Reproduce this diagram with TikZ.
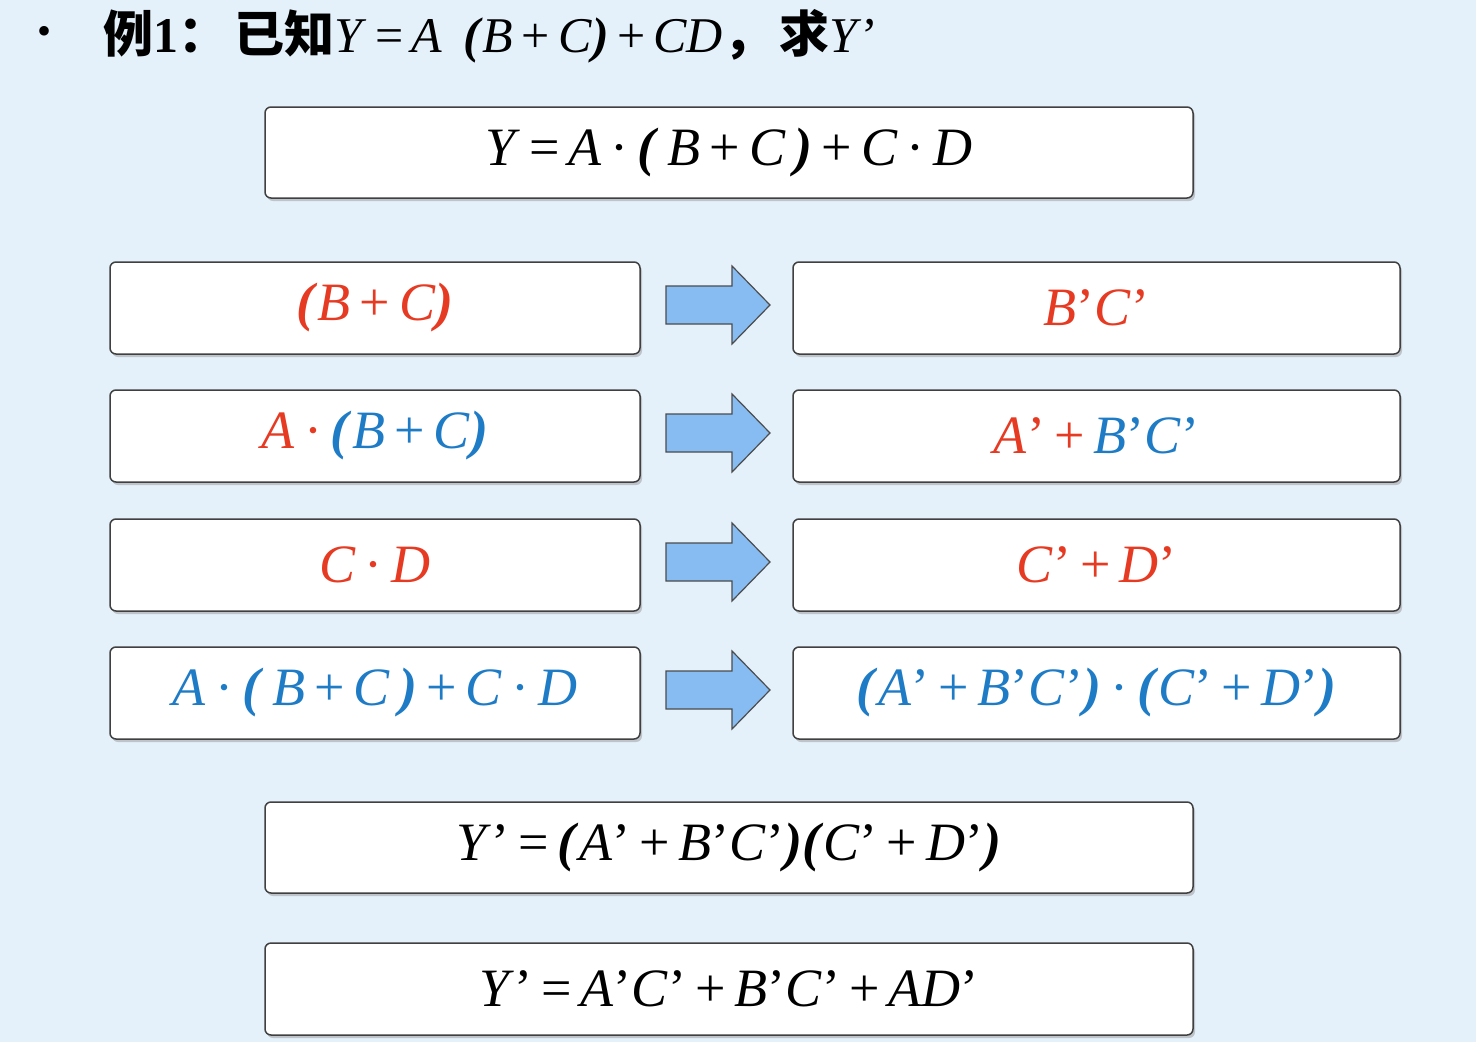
\documentclass[tikz,border=0pt]{standalone}
\usepackage{fontspec}
\setmainfont{Liberation Serif}
\newfontfamily\cjk{Noto Sans CJK SC}
\usetikzlibrary{shadows}
\definecolor{bg}{HTML}{E4F1FB}
\definecolor{rd}{HTML}{E63A22}
\definecolor{bl}{HTML}{1E7BC6}
\definecolor{arf}{HTML}{86BCF2}
\newcommand{\I}[1]{\textit{#1}}
\newcommand{\Lp}{\textbf{\textit{(}}}
\newcommand{\Rp}{\textbf{\textit{)}}}
\begin{document}
\begin{tikzpicture}[x=1pt,y=-1pt,
 bx/.style={draw=black!75,line width=1.5pt,fill=white,rounded corners=6pt,drop shadow={shadow xshift=2pt,shadow yshift=-3pt,fill=black!40}},
 ar/.style={draw=black!70,fill=arf,line width=1.2pt,line join=miter},
 tx/.style={font=\fontsize{54}{60}\selectfont}]
\fill[bg] (0,0) rectangle (1476,1042);
\useasboundingbox (0,0) rectangle (1476,1042);
\node[font=\fontsize{40}{44}\selectfont] (bul) at (45,35) {•};
\node[anchor=base west,font=\fontsize{50}{54}\selectfont] (ttl) at (100,52) {{\cjk\bfseries 例}\textbf{1}{\cjk\bfseries ：}\hspace{6pt}{\cjk\bfseries 已知}\I{Y}\,=\,\I{A}\, \Lp\I{B}\,+\,\I{C}\Rp\,+\,\I{CD}{\cjk\bfseries ，}\hspace{6pt}{\cjk\bfseries 求}\I{Y}’};
\draw[bx] (265,107) rectangle (1193,198) node[midway,tx] (t0) {\I{Y}\,=\,\I{A}\,·\,\Lp\,\I{B}\,+\,\I{C}\,\Rp\,+\,\I{C}\,·\,\I{D}};
\foreach \y/\l/\r [count=\i] in {
 262/{\color{rd}\Lp\I{B}\,+\,\I{C}\Rp}/{\color{rd}\I{B}’\I{C}’},
 390/{\color{rd}\I{A}\,·\,}{\color{bl}\Lp\I{B}\,+\,\I{C}\Rp}/{\color{rd}\I{A}’\,+\,}{\color{bl}\I{B}’\I{C}’},
 519/{\color{rd}\I{C}\,·\,\I{D}}/{\color{rd}\I{C}’\,+\,\I{D}’},
 647/{\color{bl}\I{A}\,·\,\Lp\,\I{B}\,+\,\I{C}\,\Rp\,+\,\I{C}\,·\,\I{D}}/{\color{bl}\Lp\I{A}’\,+\,\I{B}’\I{C}’\Rp\,·\,\Lp\I{C}’\,+\,\I{D}’\Rp}}{
 \draw[bx] (110,\y) rectangle (640,\y+92) node[midway,tx] (l\i) {\l};
 \draw[bx] (793,\y) rectangle (1400,\y+92) node[midway,tx] (r\i) {\r};
 \draw[ar] (666,\y+24) -- (732,\y+24) -- (732,\y+4) -- (770,\y+43) -- (732,\y+82) -- (732,\y+62) -- (666,\y+62) -- cycle;
}
\draw[bx] (265,802) rectangle (1193,893) node[midway,tx] (b1) {\I{Y}’\,=\,\Lp\I{A}’\,+\,\I{B}’\I{C}’\Rp\Lp\I{C}’\,+\,\I{D}’\Rp};
\draw[bx] (265,943) rectangle (1193,1035) node[midway,tx] (b2) {\I{Y}’\,=\,\I{A}’\I{C}’\,+\,\I{B}’\I{C}’\,+\,\I{AD}’};
\end{tikzpicture}
\end{document}
